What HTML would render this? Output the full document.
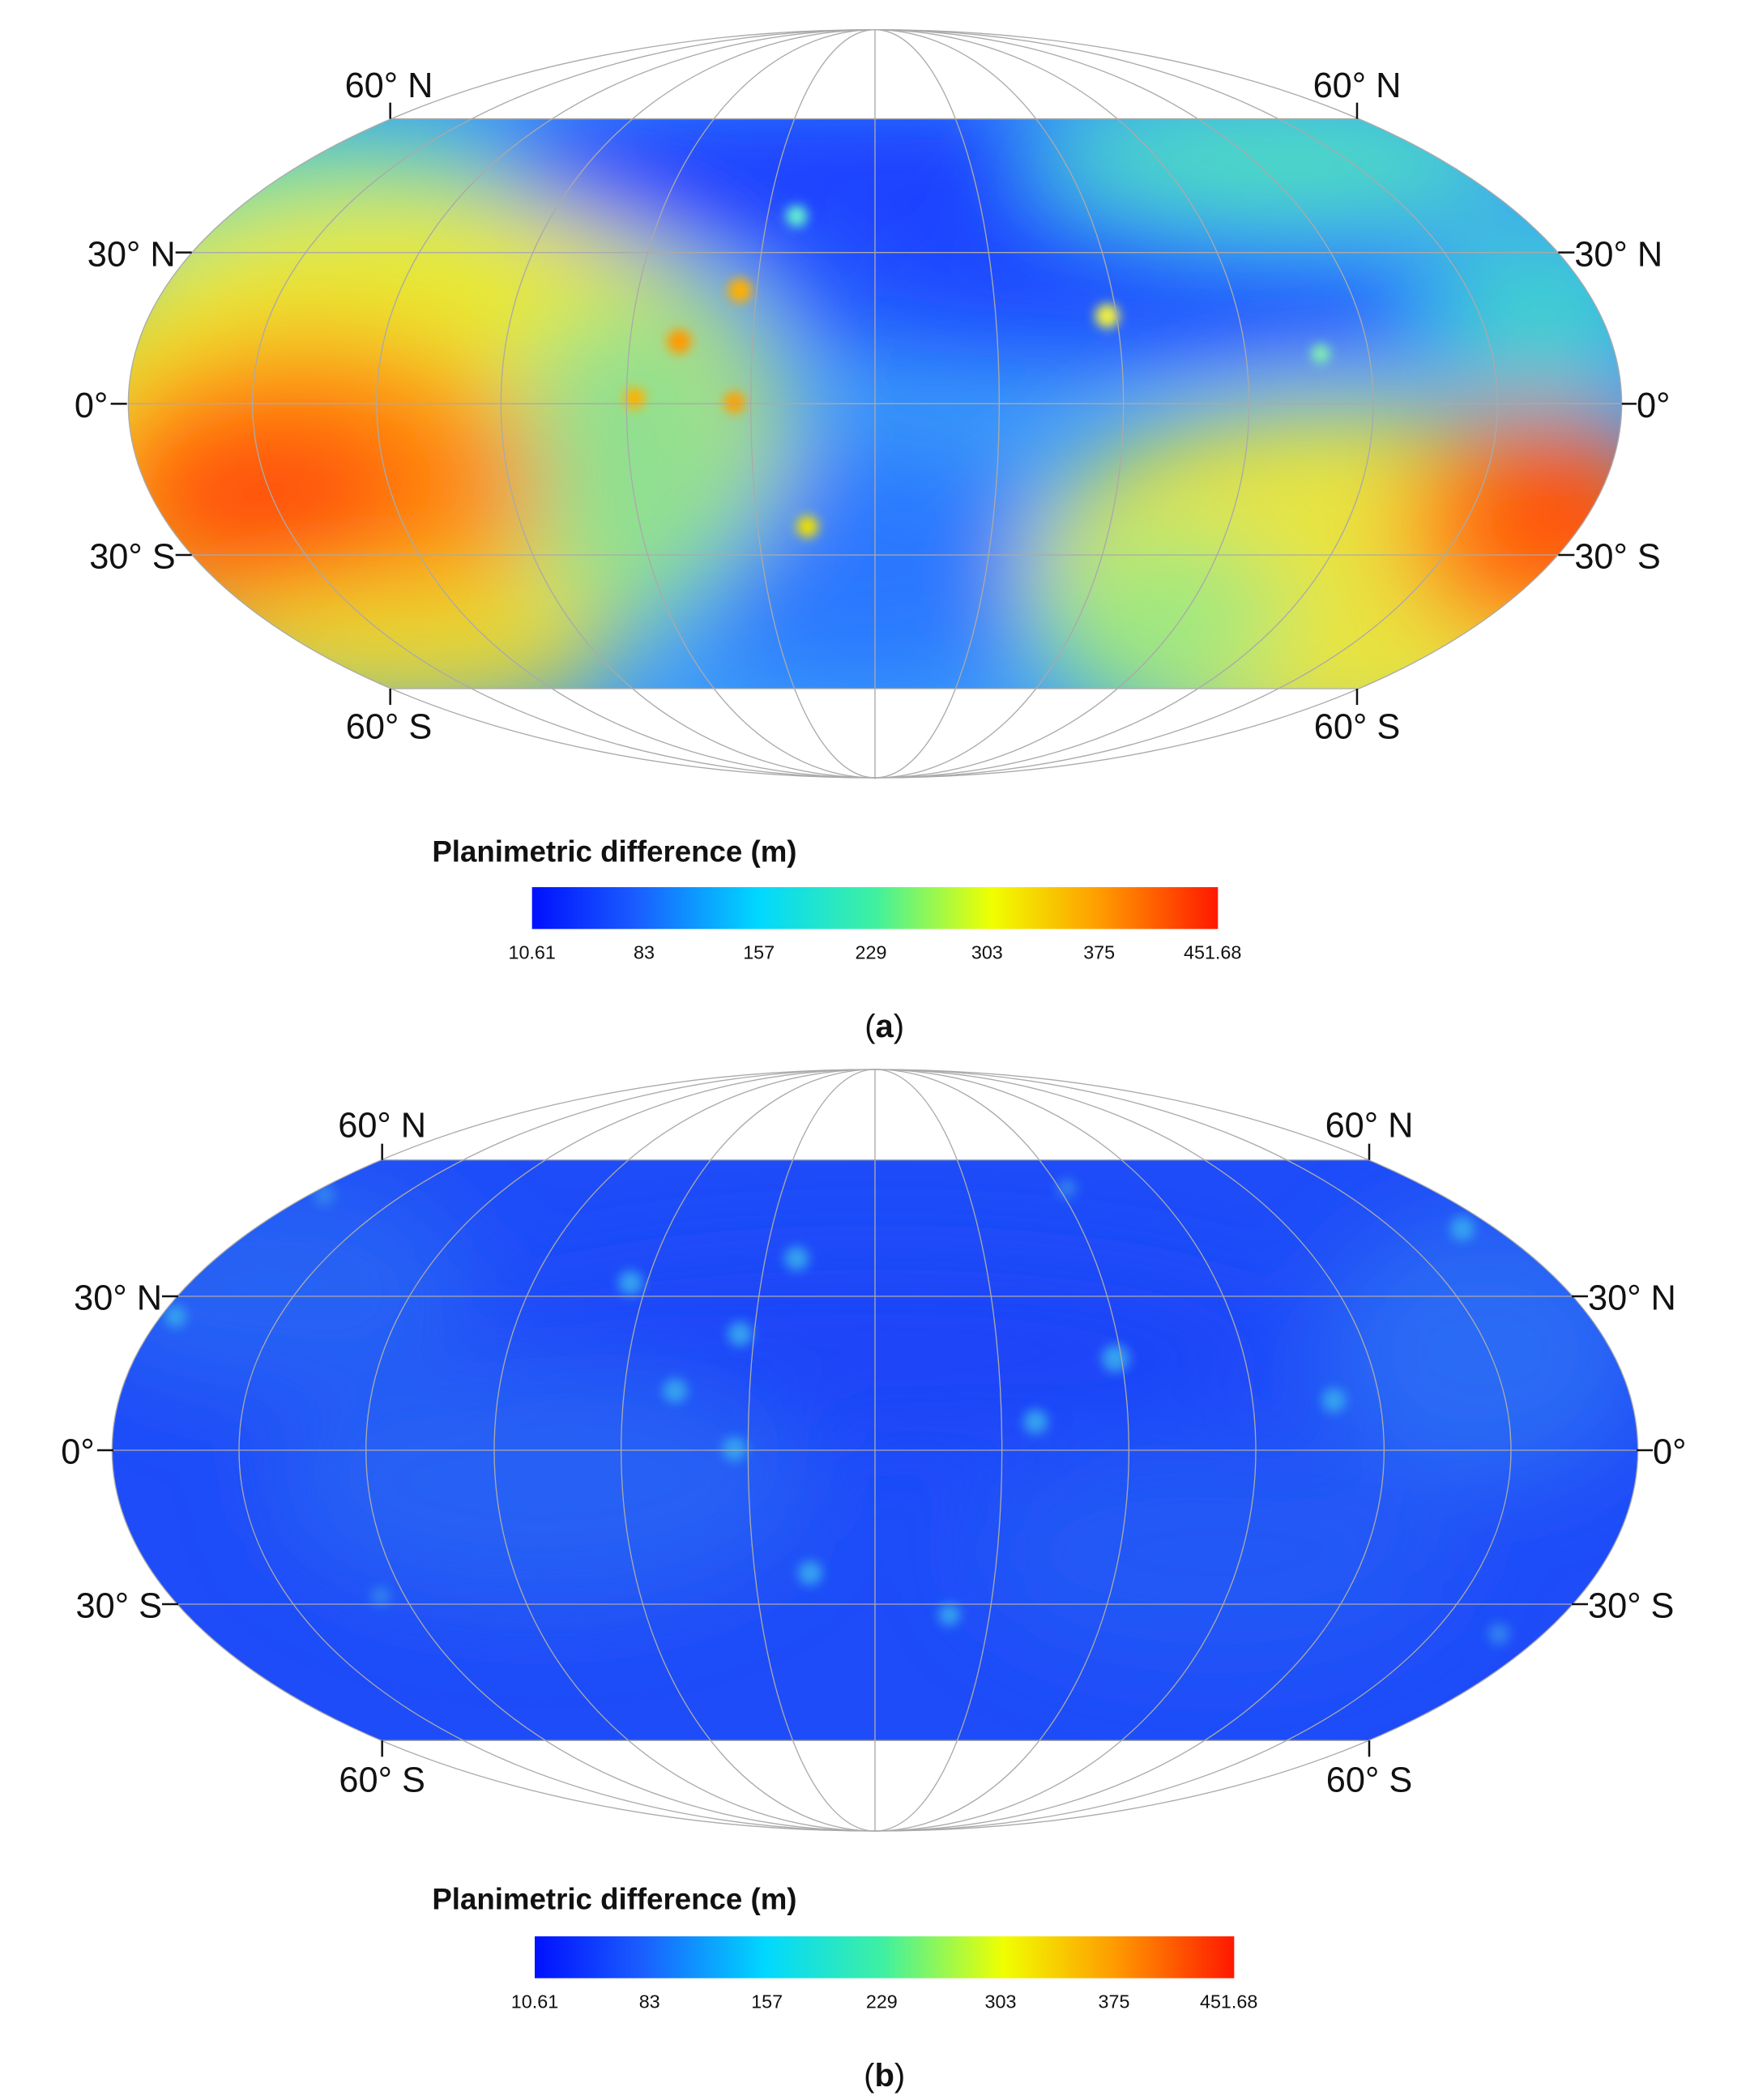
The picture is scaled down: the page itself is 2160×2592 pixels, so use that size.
<!DOCTYPE html>
<html><head><meta charset="utf-8"><style>
html,body{margin:0;padding:0;background:#fff;}
svg{display:block;}
text{font-family:"Liberation Sans","DejaVu Sans",sans-serif;fill:#111;}
</style></head><body>
<svg width="2160" height="2592" viewBox="0 0 1296 1555.2" xmlns="http://www.w3.org/2000/svg">
<defs>
<linearGradient id="jet" x1="0" x2="1" y1="0" y2="0">
<stop offset="0" stop-color="#0010ff"/>
<stop offset="0.15" stop-color="#1a5cff"/>
<stop offset="0.33" stop-color="#00d8ff"/>
<stop offset="0.5" stop-color="#40f0a0"/>
<stop offset="0.67" stop-color="#f0ff00"/>
<stop offset="0.83" stop-color="#ff9a00"/>
<stop offset="1" stop-color="#ff1800"/>
</linearGradient>
<filter id="bl" x="-50%" y="-50%" width="200%" height="200%"><feGaussianBlur stdDeviation="35"/></filter>
<filter id="bs" x="-50%" y="-50%" width="200%" height="200%"><feGaussianBlur stdDeviation="4"/></filter>
<clipPath id="ca"><ellipse cx="648" cy="299" rx="553" ry="277"/></clipPath>
<clipPath id="cb"><ellipse cx="648" cy="1074" rx="565" ry="282"/></clipPath>
</defs>

<!-- MAP A -->
<g clip-path="url(#ca)">
<rect x="80" y="88" width="1140" height="422" fill="#3a9cf8"/>
<g filter="url(#bl)">
<ellipse cx="640" cy="130" rx="330" ry="60" fill="#1a40ff"/>
<ellipse cx="820" cy="225" rx="260" ry="40" fill="#1e4cff"/>
<ellipse cx="640" cy="420" rx="150" ry="90" fill="#2c78ff"/>
<ellipse cx="220" cy="150" rx="170" ry="60" fill="#50dcb0"/>
<ellipse cx="940" cy="120" rx="180" ry="45" fill="#50e0c0"/>
<ellipse cx="1140" cy="230" rx="80" ry="60" fill="#40d0d0"/>
<ellipse cx="300" cy="320" rx="280" ry="180" fill="#e8e830"/>
<ellipse cx="470" cy="340" rx="90" ry="120" fill="#90e090"/>
<ellipse cx="230" cy="360" rx="170" ry="110" fill="#ff8a10"/>
<ellipse cx="200" cy="370" rx="100" ry="60" fill="#ff5010"/>
<ellipse cx="300" cy="480" rx="150" ry="50" fill="#e8d830"/>
<ellipse cx="990" cy="430" rx="230" ry="130" fill="#e8e440"/>
<ellipse cx="860" cy="460" rx="90" ry="70" fill="#a0e880"/>
<ellipse cx="1140" cy="390" rx="100" ry="85" fill="#ff7010"/>
<ellipse cx="1160" cy="380" rx="50" ry="50" fill="#ff4a10"/>
</g>
<g filter="url(#bs)">
<circle cx="548" cy="215" r="9" fill="#ffb000"/>
<circle cx="503" cy="253" r="9" fill="#ff9a00"/>
<circle cx="470" cy="295" r="8" fill="#ffb000"/>
<circle cx="544" cy="298" r="8" fill="#ffa000"/>
<circle cx="820" cy="234" r="9" fill="#f0f040"/>
<circle cx="598" cy="390" r="8" fill="#f0e000"/>
<circle cx="590" cy="160" r="8" fill="#60f0d0"/>
<circle cx="978" cy="262" r="7" fill="#80f0b0"/>
</g>
</g>
<rect x="80" y="20" width="1140" height="68" fill="#fff"/>
<rect x="80" y="510" width="1140" height="70" fill="#fff"/>
<g fill="none" stroke="#aaa" stroke-width="0.8">
<ellipse cx="648" cy="299" rx="553" ry="277"/>
<ellipse cx="648" cy="299" rx="461" ry="277"/>
<ellipse cx="648" cy="299" rx="369" ry="277"/>
<ellipse cx="648" cy="299" rx="277" ry="277"/>
<ellipse cx="648" cy="299" rx="184" ry="277"/>
<ellipse cx="648" cy="299" rx="92" ry="277"/>
<line x1="648" y1="22" x2="648" y2="577"/>
<line x1="142" y1="187" x2="1154" y2="187"/>
<line x1="142" y1="411" x2="1154" y2="411"/>
<line x1="95" y1="299" x2="1201" y2="299"/>
<line x1="291" y1="88" x2="1005" y2="88"/>
<line x1="291" y1="510" x2="1005" y2="510"/>
</g>
<g stroke="#111" stroke-width="1.5">
<line x1="130" y1="187" x2="142" y2="187"/><line x1="1154" y1="187" x2="1166" y2="187"/>
<line x1="82" y1="299" x2="94" y2="299"/><line x1="1201" y1="299" x2="1212" y2="299"/>
<line x1="130" y1="411" x2="142" y2="411"/><line x1="1154" y1="411" x2="1166" y2="411"/>
<line x1="289" y1="76" x2="289" y2="88"/><line x1="1005" y1="76" x2="1005" y2="88"/>
<line x1="289" y1="510" x2="289" y2="522"/><line x1="1005" y1="510" x2="1005" y2="522"/>
</g>
<g font-size="26">
<text x="288" y="72" text-anchor="middle">60° N</text>
<text x="1005" y="72" text-anchor="middle">60° N</text>
<text x="288" y="547" text-anchor="middle">60° S</text>
<text x="1005" y="547" text-anchor="middle">60° S</text>
<text x="130" y="197" text-anchor="end">30° N</text>
<text x="1166" y="197">30° N</text>
<text x="80" y="309" text-anchor="end">0°</text>
<text x="1212" y="309">0°</text>
<text x="130" y="421" text-anchor="end">30° S</text>
<text x="1166" y="421">30° S</text>
</g>
<text x="320" y="638" font-size="22" font-weight="bold">Planimetric difference (m)</text>
<rect x="394" y="657" width="508" height="31" fill="url(#jet)"/>
<g font-size="14" text-anchor="middle">
<text x="394" y="710">10.61</text><text x="477" y="710">83</text><text x="562" y="710">157</text>
<text x="645" y="710">229</text><text x="731" y="710">303</text><text x="814" y="710">375</text><text x="898" y="710">451.68</text>
</g>
<text x="655" y="768" font-size="24" text-anchor="middle" font-family="Liberation Serif">(<tspan font-weight="bold">a</tspan>)</text>

<!-- MAP B -->
<g clip-path="url(#cb)">
<rect x="80" y="859" width="1140" height="430" fill="#1e4cf8"/>
<g filter="url(#bl)">
<ellipse cx="200" cy="950" rx="150" ry="80" fill="#2862f4"/>
<ellipse cx="1100" cy="1000" rx="120" ry="100" fill="#2a6af4"/>
<ellipse cx="650" cy="1000" rx="300" ry="60" fill="#1a44f8"/>
<ellipse cx="400" cy="1100" rx="200" ry="90" fill="#2660f4"/>
<ellipse cx="900" cy="1150" rx="180" ry="80" fill="#2458f6"/>
</g>
<g fill="#35a0f0" filter="url(#bs)">
<circle cx="467" cy="950" r="9"/><circle cx="590" cy="932" r="9"/><circle cx="548" cy="988" r="9"/>
<circle cx="826" cy="1006" r="10"/><circle cx="767" cy="1053" r="9"/><circle cx="988" cy="1037" r="9"/>
<circle cx="544" cy="1073" r="9"/><circle cx="600" cy="1165" r="9"/><circle cx="703" cy="1196" r="8"/>
<circle cx="500" cy="1030" r="9"/><circle cx="130" cy="975" r="8"/><circle cx="1083" cy="910" r="9"/>
<circle cx="282" cy="1182" r="7" fill="#3080f0"/><circle cx="1110" cy="1210" r="8" fill="#3080f0"/>
<circle cx="240" cy="885" r="8" fill="#3080f0"/><circle cx="790" cy="880" r="7" fill="#3080f0"/>
</g>
</g>
<rect x="70" y="785" width="1160" height="74" fill="#fff"/>
<rect x="70" y="1289" width="1160" height="72" fill="#fff"/>
<g fill="none" stroke="#aaa" stroke-width="0.8">
<ellipse cx="648" cy="1074" rx="565" ry="282"/>
<ellipse cx="648" cy="1074" rx="471" ry="282"/>
<ellipse cx="648" cy="1074" rx="377" ry="282"/>
<ellipse cx="648" cy="1074" rx="282" ry="282"/>
<ellipse cx="648" cy="1074" rx="188" ry="282"/>
<ellipse cx="648" cy="1074" rx="94" ry="282"/>
<line x1="648" y1="792" x2="648" y2="1356"/>
<line x1="131" y1="960" x2="1165" y2="960"/>
<line x1="131" y1="1188" x2="1165" y2="1188"/>
<line x1="83" y1="1074" x2="1213" y2="1074"/>
<line x1="283" y1="859" x2="1013" y2="859"/>
<line x1="283" y1="1289" x2="1013" y2="1289"/>
</g>
<g stroke="#111" stroke-width="1.5">
<line x1="120" y1="960" x2="132" y2="960"/><line x1="1164" y1="960" x2="1176" y2="960"/>
<line x1="72" y1="1074" x2="84" y2="1074"/><line x1="1212" y1="1074" x2="1224" y2="1074"/>
<line x1="120" y1="1188" x2="132" y2="1188"/><line x1="1164" y1="1188" x2="1176" y2="1188"/>
<line x1="283" y1="847" x2="283" y2="859"/><line x1="1014" y1="847" x2="1014" y2="859"/>
<line x1="283" y1="1289" x2="283" y2="1301"/><line x1="1014" y1="1289" x2="1014" y2="1301"/>
</g>
<g font-size="26">
<text x="283" y="842" text-anchor="middle">60° N</text>
<text x="1014" y="842" text-anchor="middle">60° N</text>
<text x="283" y="1327" text-anchor="middle">60° S</text>
<text x="1014" y="1327" text-anchor="middle">60° S</text>
<text x="120" y="970" text-anchor="end">30° N</text>
<text x="1176" y="970">30° N</text>
<text x="70" y="1084" text-anchor="end">0°</text>
<text x="1224" y="1084">0°</text>
<text x="120" y="1198" text-anchor="end">30° S</text>
<text x="1176" y="1198">30° S</text>
</g>
<text x="320" y="1414" font-size="22" font-weight="bold">Planimetric difference (m)</text>
<rect x="396" y="1434" width="518" height="31" fill="url(#jet)"/>
<g font-size="14" text-anchor="middle">
<text x="396" y="1487">10.61</text><text x="481" y="1487">83</text><text x="568" y="1487">157</text>
<text x="653" y="1487">229</text><text x="741" y="1487">303</text><text x="825" y="1487">375</text><text x="910" y="1487">451.68</text>
</g>
<text x="655" y="1545" font-size="24" text-anchor="middle" font-family="Liberation Serif">(<tspan font-weight="bold">b</tspan>)</text>
</svg>
</body></html>
